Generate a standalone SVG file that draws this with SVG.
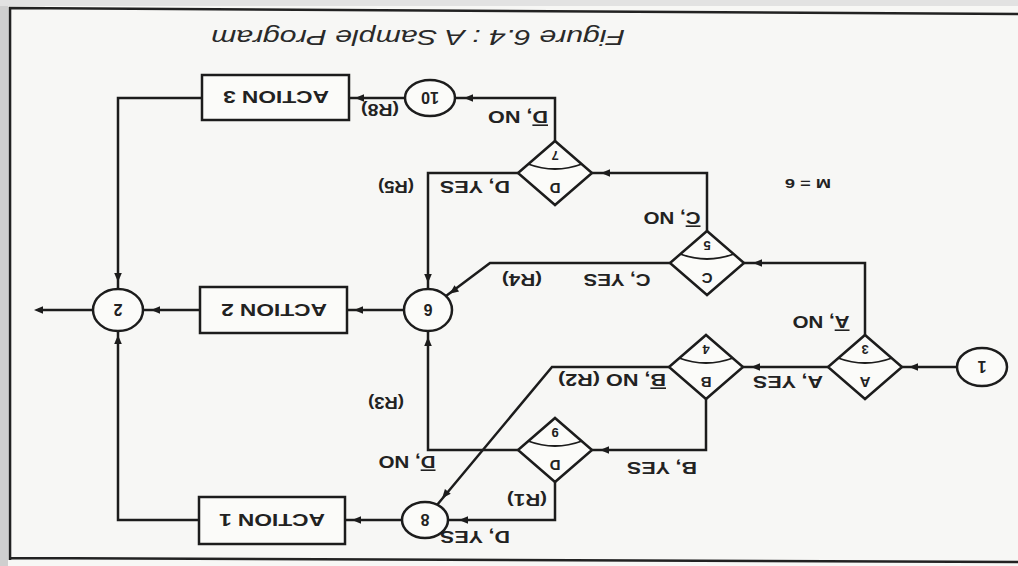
<svg xmlns="http://www.w3.org/2000/svg" xmlns:xlink="http://www.w3.org/1999/xlink" width="1018" height="566" viewBox="0 0 1018 566">
<style>
.ln{fill:none;stroke:#1c1c1c;stroke-width:2.5;stroke-linejoin:miter}
.nd{fill:#fbfbf9;stroke:#1c1c1c;stroke-width:2.5}
.arc{fill:none;stroke:#1c1c1c;stroke-width:1.8}
.lb{font-family:"Liberation Sans",Arial,sans-serif;font-weight:bold;font-size:16px;fill:#222;text-anchor:middle}
.nl{font-family:"Liberation Sans",Arial,sans-serif;font-weight:bold;font-size:15px;fill:#222;text-anchor:middle}
.cn{font-family:"Liberation Sans",Arial,sans-serif;font-weight:bold;font-size:16px;fill:#222;text-anchor:middle}
.nn{font-family:"Liberation Sans",Arial,sans-serif;font-weight:bold;font-size:13px;fill:#222;text-anchor:middle}
.bx{font-family:"Liberation Sans",Arial,sans-serif;font-weight:bold;font-size:17px;fill:#222;text-anchor:middle}
.ttl{font-family:"Liberation Sans",Arial,sans-serif;font-style:italic;font-size:22px;fill:#2a2a2a;text-anchor:middle}
.ov{text-decoration:overline}
.ah{fill:#1c1c1c}
</style>
<defs>
<path id="ah" class="ah" d="M3,0 L-6,-3.8 L-6,3.8 Z"/>
</defs>
<rect x="0" y="0" width="1018" height="566" fill="#f7f7f5"/>
<rect x="0" y="0" width="8" height="566" fill="#cfcfcf"/>
<rect x="0" y="0" width="1018" height="6" fill="#e2e2e2"/>
<path d="M10,560 L10,8 L1018,14 M10,558 L1018,562" fill="none" stroke="#222" stroke-width="2.6"/>
<g transform="rotate(180 509 283)">
<text class="ttl" x="600" y="536" textLength="414" lengthAdjust="spacingAndGlyphs">Figure 6.4 : A Sample Program</text>
<g id="connectors">
<path class="ln" d="M61,199 H116"/><use xlink:href="#ah" transform="translate(106,199)"/>
<path class="ln" d="M190,199 H275"/><use xlink:href="#ah" transform="translate(264,199)"/>
<path class="ln" d="M153,231 V303 H274"/><use xlink:href="#ah" transform="translate(262,303)"/>
<path class="ln" d="M349,199 H466 L581,61"/><use xlink:href="#ah" transform="translate(574,70) rotate(-50.2)"/>
<path class="ln" d="M312,167 V116 H426"/><use xlink:href="#ah" transform="translate(415,116)"/>
<path class="ln" d="M500,116 H590 V235"/><use xlink:href="#ah" transform="translate(590,226) rotate(90)"/>
<path class="ln" d="M463,84 V46 H570"/><use xlink:href="#ah" transform="translate(556,46)"/>
<path class="ln" d="M616,46 H673"/><use xlink:href="#ah" transform="translate(663,46)"/>
<path class="ln" d="M819,46 H900 V235"/><use xlink:href="#ah" transform="translate(900,228) rotate(90)"/>
<path class="ln" d="M818,256 H875"/><use xlink:href="#ah" transform="translate(864,256)"/>
<path class="ln" d="M925,256 H980"/><use xlink:href="#ah" transform="translate(981,256)"/>
<path class="ln" d="M614,256 H671"/><use xlink:href="#ah" transform="translate(661,256)"/>
<path class="ln" d="M816,468 H900 V277"/><use xlink:href="#ah" transform="translate(900,287) rotate(-90)"/>
<path class="ln" d="M613,468 H669"/><use xlink:href="#ah" transform="translate(660,468)"/>
<path class="ln" d="M348,303 H528 L572,270"/><use xlink:href="#ah" transform="translate(566,274) rotate(-36.9)"/>
<path class="ln" d="M311,335 V393 H426"/><use xlink:href="#ah" transform="translate(414,393)"/>
<path class="ln" d="M500,393 H590 V277"/><use xlink:href="#ah" transform="translate(590,286) rotate(-90)"/>
<path class="ln" d="M463,425 V468 H563"/><use xlink:href="#ah" transform="translate(551,468)"/>
<text class="lb" x="230" y="190" textLength="70" lengthAdjust="spacingAndGlyphs">A, YES</text>
<text class="lb" x="197" y="250" textLength="57" lengthAdjust="spacingAndGlyphs"><tspan class="ov">A</tspan>, NO</text>
<text class="lb" x="356" y="104" textLength="70" lengthAdjust="spacingAndGlyphs">B, YES</text>
<text class="lb" x="406" y="192" textLength="108" lengthAdjust="spacingAndGlyphs"><tspan class="ov">B</tspan>, NO (R2)</text>
<text class="lb" x="401" y="292" textLength="67" lengthAdjust="spacingAndGlyphs">C, YES</text>
<text class="lb" x="496" y="292" textLength="40" lengthAdjust="spacingAndGlyphs">(R4)</text>
<text class="lb" x="346" y="354" textLength="57" lengthAdjust="spacingAndGlyphs"><tspan class="ov">C</tspan>, NO</text>
<text class="lb" x="543" y="385" textLength="70" lengthAdjust="spacingAndGlyphs">D, YES</text>
<text class="lb" x="622" y="385" textLength="36" lengthAdjust="spacingAndGlyphs">(R5)</text>
<text class="lb" x="500" y="455" textLength="60" lengthAdjust="spacingAndGlyphs"><tspan class="ov">D</tspan>, NO</text>
<text class="lb" x="638" y="462" textLength="38" lengthAdjust="spacingAndGlyphs">(R8)</text>
<text class="lb" x="491" y="72" textLength="40" lengthAdjust="spacingAndGlyphs">(R1)</text>
<text class="lb" x="543" y="35" textLength="70" lengthAdjust="spacingAndGlyphs">D, YES</text>
<text class="lb" x="611" y="110" textLength="57" lengthAdjust="spacingAndGlyphs"><tspan class="ov">D</tspan>, NO</text>
<text class="lb" x="632" y="169" textLength="36" lengthAdjust="spacingAndGlyphs">(R3)</text>
</g>
<text class="lb" x="210" y="387" style="font-size:13px" textLength="46" lengthAdjust="spacingAndGlyphs">M = 6</text>
<g id="n1"><ellipse class="nd" cx="36" cy="199" rx="25" ry="19"/><text class="cn" x="36" y="205">1</text></g>
<g id="n3"><path class="nd" d="M153,167 L190,199 L153,231 L116,199 Z"/><path class="arc" d="M126,208 Q153,198 180,208"/><text class="nl" x="153" y="189">A</text><text class="nn" x="153" y="221">3</text></g>
<g id="n4"><path class="nd" d="M312,167 L349,199 L312,231 L275,199 Z"/><path class="arc" d="M285,208 Q312,198 339,208"/><text class="nl" x="312" y="189">B</text><text class="nn" x="312" y="221">4</text></g>
<g id="n5"><path class="nd" d="M311,271 L348,303 L311,335 L274,303 Z"/><path class="arc" d="M284,312 Q311,302 338,312"/><text class="nl" x="311" y="293">C</text><text class="nn" x="311" y="325">5</text></g>
<g id="n7"><path class="nd" d="M463,361 L500,393 L463,425 L426,393 Z"/><path class="arc" d="M436,402 Q463,392 490,402"/><text class="nl" x="463" y="383">D</text><text class="nn" x="463" y="415">7</text></g>
<g id="n9"><path class="nd" d="M463,84 L500,116 L463,148 L426,116 Z"/><path class="arc" d="M436,125 Q463,115 490,125"/><text class="nl" x="463" y="106">D</text><text class="nn" x="463" y="138">9</text></g>
<g id="n6"><ellipse class="nd" cx="590" cy="256" rx="24" ry="21"/><text class="cn" x="590" y="262">6</text></g>
<g id="n8"><ellipse class="nd" cx="593" cy="46" rx="23" ry="18"/><text class="cn" x="593" y="52">8</text></g>
<g id="n10"><ellipse class="nd" cx="588" cy="468" rx="25" ry="18"/><text class="cn" x="588" y="474">10</text></g>
<g id="n2"><ellipse class="nd" cx="900" cy="256" rx="25" ry="21"/><text class="cn" x="900" y="262">2</text></g>
<g id="a1"><rect class="nd" x="673" y="22" width="146" height="47"/><text class="bx" x="746" y="52" textLength="106" lengthAdjust="spacingAndGlyphs">ACTION 1</text></g>
<g id="a2"><rect class="nd" x="671" y="233" width="147" height="46"/><text class="bx" x="744" y="262" textLength="106" lengthAdjust="spacingAndGlyphs">ACTION 2</text></g>
<g id="a3"><rect class="nd" x="669" y="446" width="147" height="45"/><text class="bx" x="742" y="475" textLength="106" lengthAdjust="spacingAndGlyphs">ACTION 3</text></g>
</g>
</svg>
